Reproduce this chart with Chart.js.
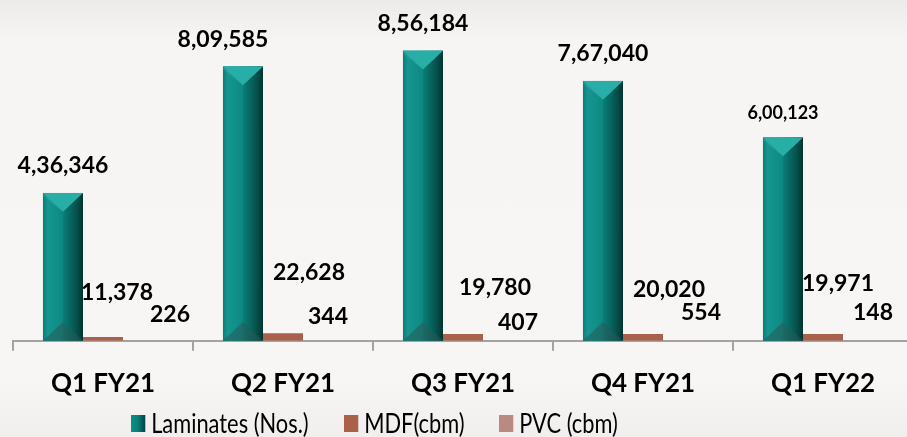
<!DOCTYPE html>
<html>
<head>
<meta charset="utf-8">
<script src="https://cdn.jsdelivr.net/npm/chart.js@4.4.1/dist/chart.umd.min.js"></script>
<style>
  html, body { margin: 0; padding: 0; overflow: hidden; }
  body {
    width: 907px; height: 437px;
    background: linear-gradient(to bottom, #ecebea 0px, #f7f5f3 40px, #f8f6f4 380px, #f1efee 437px);
    font-family: Lato, sans-serif;
  }
  #wrap { position: relative; width: 913px; height: 437px; }
  #legend { position: absolute; top: 407px; left: 0; height: 34px; }
  .item { position: absolute; top: 0; display: flex; align-items: center; white-space: nowrap;
          font: 26px Lato, sans-serif; color: #000; transform: scaleX(0.84); transform-origin: left center; }
  .box { width: 17px; height: 17px; margin-right: 7px; }
</style>
</head>
<body>
<div id="wrap">
  <canvas id="chart" width="913" height="437"></canvas>
  <div id="legend"></div>
</div>
<script>
// chart data
var quarters = ["Q1 FY21", "Q2 FY21", "Q3 FY21", "Q4 FY21", "Q1 FY22"];
var laminates = [436346, 809585, 856184, 767040, 600123];
var mdf = [11378, 22628, 19780, 20020, 19971];
var pvc = [226, 344, 407, 554, 148];
var seriesNames = ["Laminates (Nos.)", "MDF(cbm)", "PVC (cbm)"];

// label nudges (dx, dy) as placed in the original slide
var labelShift = [
    { dx: [0, -20, 0, 0, 0], dy: [-27, -27, -27, -27, -24] },   // from bar top
    { dx: [14, 26, 32, 26, 15], dy: [-48, -68, -53, -51, -57] }, // from axis
    { dx: [27, 5, 15, 18, 10], dy: [-26, -24, -18, -28, -28] }   // from axis
];

function inr(n) {
    var s = String(n);
    if (s.length <= 3) return s;
    var rest = s.slice(0, -3);
    return rest.replace(/\B(?=(\d{2})+(?!\d))/g, ',') + ',' + s.slice(-3);
}

var barShade = {
    id: 'barShade',
    afterDatasetsDraw: function(chart) {
        var c = chart.ctx;
        // bevelled look for the laminates bars
        chart.getDatasetMeta(0).data.forEach(function(bar) {
            var l = bar.x - bar.width / 2, r = bar.x + bar.width / 2;
            var t = bar.y, b = bar.base, w = bar.width;
            var g = c.createLinearGradient(l, 0, r, 0);
            g.addColorStop(0, '#0b7d77');
            g.addColorStop(0.12, '#159690');
            g.addColorStop(0.48, '#0e8983');
            g.addColorStop(0.52, '#0a7b75');
            g.addColorStop(0.85, '#064f4b');
            g.addColorStop(1, '#023331');
            c.save();
            c.fillStyle = g;
            c.fillRect(l, t, w, b - t);
            c.beginPath();
            c.moveTo(l, t); c.lineTo(r, t); c.lineTo(bar.x, t + w * 0.47); c.closePath();
            c.fillStyle = '#27aea6';
            c.fill();
            c.beginPath();
            c.moveTo(l, t); c.lineTo(bar.x, t + w * 0.47); c.lineTo(l, t + 3); c.closePath();
            c.fillStyle = 'rgba(255,255,255,0.08)';
            c.fill();
            c.beginPath();
            c.moveTo(l, b); c.lineTo(r, b); c.lineTo(bar.x, b - w * 0.47); c.closePath();
            c.fillStyle = 'rgba(40,90,88,0.55)';
            c.fill();
            c.restore();
        });

        // value labels
        c.save();
        c.fillStyle = '#000';
        c.textAlign = 'center';
        c.textBaseline = 'middle';
        chart.data.datasets.forEach(function(ds, di) {
            chart.getDatasetMeta(di).data.forEach(function(bar, i) {
                var sh = labelShift[di];
                var y = di === 0 ? bar.y + sh.dy[i] : bar.base + sh.dy[i];
                var size = (di === 0 && i === 4) ? 18 : 23;
                c.font = 'bold ' + size + 'px Lato, sans-serif';
                c.fillText(inr(ds.data[i]), bar.x + sh.dx[i], y);
            });
        });
        c.restore();
    }
};

var ctx = document.getElementById('chart').getContext('2d');
var colors = ['#0e8983', '#a9614b', '#b98a80'];

var myChart = new Chart(ctx, {
    type: 'bar',
    data: {
        labels: quarters,
        datasets: [
            { label: seriesNames[0], data: laminates, backgroundColor: colors[0] },
            { label: seriesNames[1], data: mdf, backgroundColor: colors[1] },
            { label: seriesNames[2], data: pvc, backgroundColor: colors[2] }
        ]
    },
    options: {
        responsive: false,
        animation: false,
        barPercentage: 1,
        categoryPercentage: 0.667,
        layout: { padding: { left: 13, top: 2, right: 0, bottom: 21 } },
        scales: {
            y: { display: false, min: 0, max: 1000000 },
            x: {
                grid: { drawOnChartArea: false, drawTicks: true, tickLength: 10, color: '#a3a3a3', lineWidth: 2 },
                border: { color: '#a3a3a3', width: 2 },
                ticks: { color: '#000', padding: 17, font: { family: 'Lato', weight: 'bold', size: 26 } }
            }
        },
        plugins: {
            legend: { display: false },
            tooltip: { enabled: false }
        }
    },
    plugins: [barShade]
});

// legend below the axis, placed like the original
var legendLeft = [131, 344, 499];
var legend = document.getElementById('legend');
seriesNames.forEach(function(name, i) {
    var item = document.createElement('div');
    item.className = 'item';
    item.style.left = legendLeft[i] + 'px';
    var box = document.createElement('span');
    box.className = 'box';
    box.style.background = i === 0
        ? 'linear-gradient(to right, #0f8f88 0%, #0b7e78 50%, #04423f 100%)'
        : colors[i];
    item.appendChild(box);
    item.appendChild(document.createTextNode(name));
    legend.appendChild(item);
});
</script>
</body>
</html>
